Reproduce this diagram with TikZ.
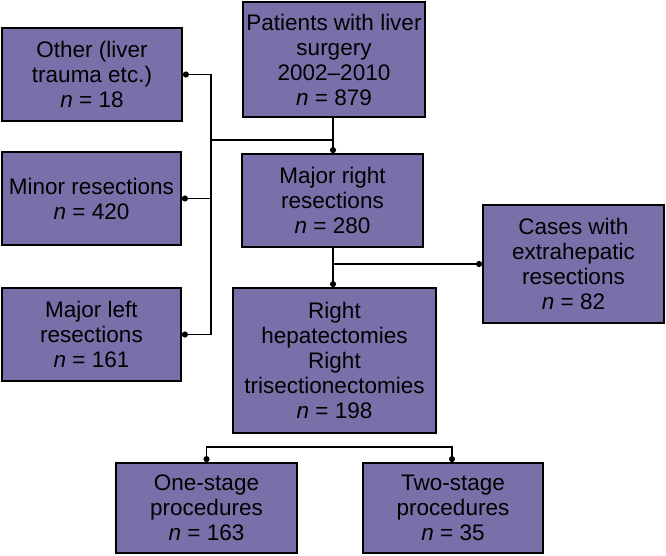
\documentclass[tikz,border=0pt]{standalone}
\usepackage{fontspec}
\setmainfont{Liberation Sans}
\usetikzlibrary{arrows.meta}
\definecolor{boxfill}{RGB}{123,111,170}
\begin{document}
\begin{tikzpicture}[%
        x = 1pt,
        y = -1pt,
        line width = 1.5pt,
        > = {Circle[length = 6pt]},
        flowbox/.style = {
            draw = black,
            fill = boxfill,
            align = center,
            inner sep = 0,
            line width = 1.8pt,
            font = \fontsize{22.5}{25}\selectfont
        },
        link/.style = {
            draw = black,
            line width = 1.5pt
        }
    ]
        \useasboundingbox (0, 0) rectangle (666, 556);

        % Boxes on the left side.
        \node[flowbox, minimum width = 180pt, minimum height = 93pt] at (92, 74.5) (other)
            {Other (liver\\trauma etc.)\\\textit{n} = 18};
        \node[flowbox, minimum width = 179pt, minimum height = 93pt] at (91.5, 198.5) (minor)
            {Minor resections\\\textit{n} = 420};
        \node[flowbox, minimum width = 179pt, minimum height = 93pt] at (91.5, 334.5) (majleft)
            {Major left\\resections\\\textit{n} = 161};

        % Main column.
        \node[flowbox, minimum width = 182pt, minimum height = 115pt] at (334, 59.5) (patients)
            {Patients with liver\\surgery\\2002--2010\\\textit{n} = 879};
        \node[flowbox, minimum width = 181pt, minimum height = 93pt] at (332.5, 200.5) (majright)
            {Major right\\resections\\\textit{n} = 280};
        \node[flowbox, minimum width = 203pt, minimum height = 145pt] at (334.5, 360.5) (righthep)
            {Right\\hepatectomies\\Right\\trisectionectomies\\\textit{n} = 198};

        % Box on the right side.
        \node[flowbox, minimum width = 181pt, minimum height = 118pt] at (573.5, 264) (cases)
            {Cases with\\extrahepatic\\resections\\\textit{n} = 82};

        % Bottom row.
        \node[flowbox, minimum width = 181pt, minimum height = 90pt] at (206.5, 508) (onestage)
            {One-stage\\procedures\\\textit{n} = 163};
        \node[flowbox, minimum width = 180pt, minimum height = 90pt] at (453, 508) (twostage)
            {Two-stage\\procedures\\\textit{n} = 35};

        % Branch points.
        \coordinate (split) at (333, 140);
        \coordinate (lefttrunk) at (211, 140);
        \coordinate (rsplit) at (333, 264);
        \coordinate (bsplit) at (330, 447);

        % Draw links from the top box.
        \draw[link, ->] (patients.south -| split) -- (majright.north -| split);
        \draw[link] (split) -- (lefttrunk);
        \draw[link, ->] (lefttrunk) |- (other.east);
        \draw[link, ->] (lefttrunk) |- (minor.east);
        \draw[link, ->] (lefttrunk) |- (majleft.east);

        % Draw links below the major right box.
        \draw[link, ->] (majright.south -| rsplit) -- (righthep.north -| rsplit);
        \draw[link, ->] (rsplit) -- (cases.west);

        % Draw links to the bottom row.
        \draw[link, ->] (bsplit) -| (onestage.north);
        \draw[link, ->] (bsplit) -| ([xshift = -1pt]twostage.north);
    \end{tikzpicture}
\end{document}
